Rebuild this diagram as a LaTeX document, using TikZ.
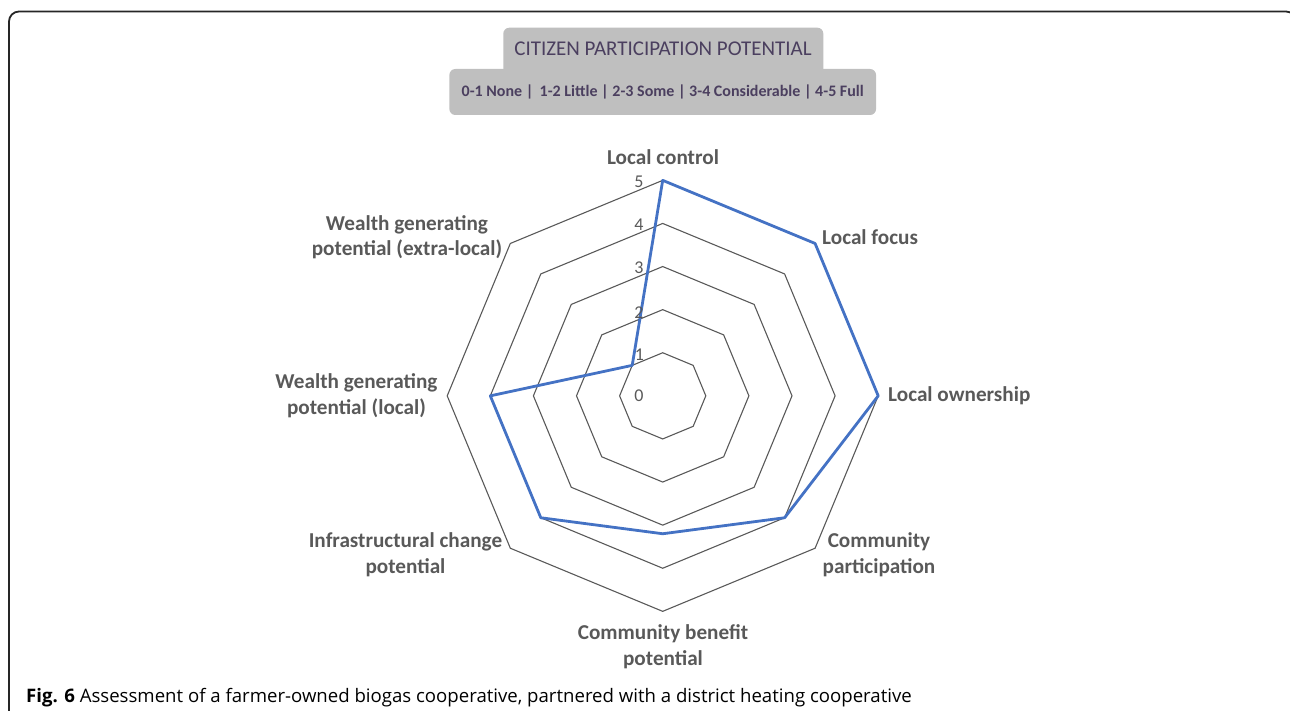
\documentclass[tikz,border=0pt]{standalone}
\usepackage{fontspec}
\setmainfont{Carlito}
\newfontfamily\capfont{Open Sans}
\definecolor{gridgray}{HTML}{595959}
\definecolor{labelgray}{HTML}{595959}
\definecolor{seriesblue}{HTML}{4472C4}
\definecolor{boxgray}{HTML}{BFBFBF}
\definecolor{titleink}{HTML}{4B3F5F}
\begin{document}
\begin{tikzpicture}
  [x=1pt,y=1pt,
   axislabel/.style={text=labelgray,font=\fontsize{21.2}{25.5}\selectfont\bfseries,
                     align=center,inner sep=0},
   ringlabel/.style={text=labelgray,font=\fontsize{18}{20}\selectfont,inner sep=0},
   ring/.style={draw=gridgray,line width=1.1pt,line join=miter},
   series/.style={draw=seriesblue,line width=2.8pt,line join=round},
   titletext/.style={text=titleink,font=\fontsize{21}{24}\selectfont,inner sep=0},
   scalebox/.style={fill=boxgray,rounded corners=6pt,minimum width=426.7pt,
                    minimum height=46pt,inner sep=0,text=titleink,
                    font=\fontsize{16}{18}\selectfont\bfseries}]
  \useasboundingbox (0,0) rectangle (1290,710);
  \draw[line width=1.8pt,black!85,rounded corners=10pt] (9,-20) -- (9,698.5) -- (1296,698.5) -- (1296,-20);
  % title boxes
  \fill[boxgray,rounded corners=6pt] (503.3,682.3) rectangle (823.3,630);
  \node[scalebox] (scale) at (662.7,618) {0-1 None |\, 1-2 Little | 2-3 Some | 3-4 Considerable | 4-5 Full};
  \node[titletext] (title) at (663,661.5) {CITIZEN PARTICIPATION POTENTIAL};
  % radar grid
  \begin{scope}[shift={(662.7,314.15)}]
    \foreach \r in {1,...,5}
      \draw[ring] (90:{\r*43.1}) -- (45:{\r*43.1}) -- (0:{\r*43.1}) -- (-45:{\r*43.1})
        -- (-90:{\r*43.1}) -- (-135:{\r*43.1}) -- (180:{\r*43.1}) -- (135:{\r*43.1}) -- cycle;
    \coordinate (lc) at (90:215.5);
    \coordinate (lf) at (45:215.5);
    \coordinate (lo) at (0:215.5);
    \coordinate (cp) at (-45:172.4);
    \coordinate (cb) at (-90:137.9);
    \coordinate (ic) at (-135:172.4);
    \coordinate (wl) at (180:172.4);
    \coordinate (we) at (135:43.1);
    \draw[series] (lc) -- (lf) -- (lo) -- (cp) -- (cb) -- (ic) -- (wl) -- (we) -- cycle;
  \end{scope}
  % ring values
  \node[ringlabel] (v0) at (639,314) {0};
  \node[ringlabel] (v1) at (639.5,355) {1};
  \node[ringlabel] (v2) at (639,397) {2};
  \node[ringlabel] (v3) at (639,442) {3};
  \node[ringlabel] (v4) at (639,485) {4};
  \node[ringlabel] (v5) at (639,528.5) {5};
  % axis labels
  \node[axislabel] (lclabel) at (663,553) {Local control};
  \node[axislabel,anchor=west] (lflabel) at (822,473) {Local focus};
  \node[axislabel,anchor=west] (lolabel) at (888,314) {Local ownership};
  \node[axislabel] (cplabel) at (879,155.5) {Community\\participation};
  \node[axislabel] (cblabel) at (663,63.5) {Community benefit\\potential};
  \node[axislabel] (iclabel) at (405.5,155.5) {Infrastructural change\\potential};
  \node[axislabel] (wllabel) at (356.5,314.5) {Wealth generating\\potential (local)};
  \node[axislabel] (welabel) at (407,473) {Wealth generating\\potential (extra-local)};
  % caption
  \node[anchor=base west,inner sep=0,font=\capfont\fontsize{18.6}{22}\selectfont] (caption) at (26,8)
    {\textbf{Fig. 6} Assessment of a farmer-owned biogas cooperative, partnered with a district heating cooperative};
\end{tikzpicture}
\end{document}
